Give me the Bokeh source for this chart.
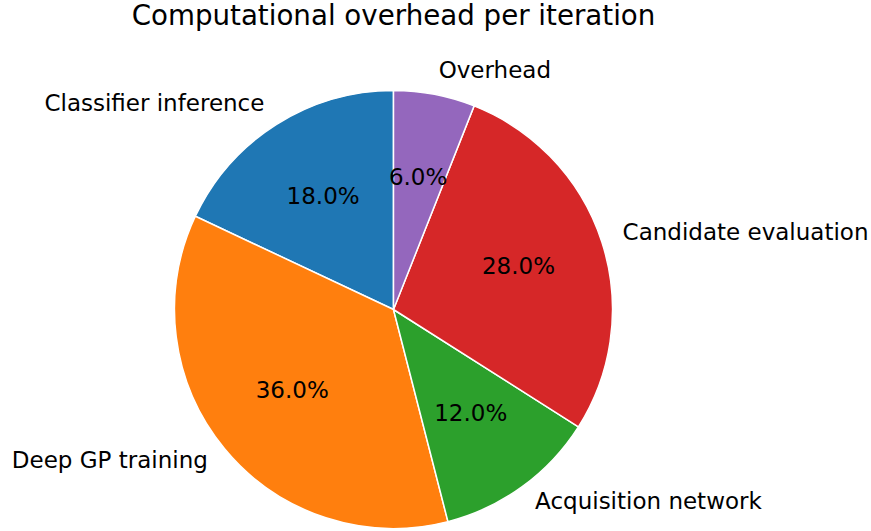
import numpy as np
from bokeh.plotting import figure
from bokeh.models import Range1d, ColumnDataSource
from bokeh.core.properties import value
from bokeh.embed import file_html
from bokeh.resources import INLINE

title = "Computational overhead per iteration"
categories = ["Classifier inference", "Deep GP training", "Acquisition network",
              "Candidate evaluation", "Overhead"]
shares = [18.0, 36.0, 12.0, 28.0, 6.0]
colors = ["#1f77b4", "#ff7f0e", "#2ca02c", "#d62728", "#9467bd"]

W, H = 871, 531
cx, cy, R = 393, -309, 219  # page-pixel layout (y negated)

p = figure(width=W, height=H, output_backend="svg", toolbar_location=None,
           x_range=Range1d(0, W), y_range=Range1d(-H, 0),
           min_border=0, min_border_left=0, min_border_right=0,
           min_border_top=0, min_border_bottom=0)
p.axis.visible = False
p.grid.visible = False
p.outline_line_color = None
p.background_fill_color = "white"
p.border_fill_color = "white"

frac = np.array(shares) / np.sum(shares)
ends = np.cumsum(frac) * 2 * np.pi
starts = np.concatenate([[0], ends[:-1]])
start_ang = np.pi / 2 + starts
end_ang = np.pi / 2 + ends
mid = (start_ang + end_ang) / 2

src = ColumnDataSource(dict(start=start_ang, end=end_ang, color=colors))
p.wedge(x=cx, y=cy, radius=R, start_angle="start", end_angle="end",
        direction="anticlock", fill_color="color", line_color="white",
        line_width=1.5, source=src)

# category labels at 1.1 R
lx = cx + 1.1 * R * np.cos(mid)
ly = cy + 1.1 * R * np.sin(mid)
align = ["left" if np.cos(a) > 0 else "right" for a in mid]
lab = ColumnDataSource(dict(x=lx, y=ly, t=categories, a=align))
p.text(x="x", y="y", text="t", text_align="a", text_baseline="middle",
       y_offset=-3,
       text_font=value("DejaVu Sans"), text_font_size="23px",
       text_color="black", source=lab)

# percentages at 0.6 R
px = cx + 0.6 * R * np.cos(mid)
py = cy + 0.6 * R * np.sin(mid)
pct = ["%.1f%%" % s for s in shares]
pl = ColumnDataSource(dict(x=px, y=py, t=pct))
p.text(x="x", y="y", text="t", text_align="center", text_baseline="middle",
       y_offset=-3,
       text_font=value("DejaVu Sans"), text_font_size="23px",
       text_color="black", source=pl)

p.text(x=[cx], y=[-15], text=[title], text_align="center",
       text_baseline="alphabetic", text_font=value("DejaVu Sans"),
       text_font_size="27.7px", text_color="black")

open("out.html", "w").write(file_html(p, INLINE))
